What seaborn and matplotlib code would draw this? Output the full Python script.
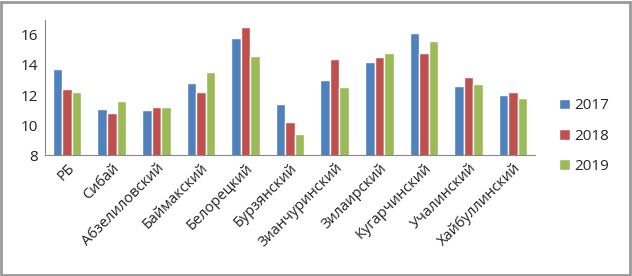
import pandas as pd
import matplotlib
matplotlib.use("Agg")
import matplotlib.pyplot as plt
import seaborn as sns
from matplotlib.ticker import FixedLocator

regions = ["РБ", "Сибай", "Абзелиловский", "Баймакский", "Белорецкий", "Бурзянский",
           "Зианчуринский", "Зилаирский", "Кугарчинский", "Учалинский", "Хайбуллинский"]
years = ["2017", "2018", "2019"]
vals_2017 = [13.7, 11.1, 11.0, 12.8, 15.8, 11.4, 13.0, 14.2, 16.1, 12.6, 12.0]
vals_2018 = [12.4, 10.8, 11.2, 12.2, 16.5, 10.2, 14.4, 14.5, 14.8, 13.2, 12.2]
vals_2019 = [12.2, 11.6, 11.2, 13.5, 14.6, 9.4, 12.5, 14.8, 15.6, 12.7, 11.8]
colors = ["#4F81BD", "#C0504D", "#9BBB59"]

df = pd.DataFrame({"region": regions * 3,
                   "year": [y for y in years for _ in regions],
                   "value": vals_2017 + vals_2018 + vals_2019})

sns.set_theme(style="white")
plt.rcParams['font.family'] = ['Open Sans', 'DejaVu Sans']

fig = plt.figure(figsize=(6.32, 2.76), dpi=100)
ax = fig.add_axes([0.071, 0.438, 0.776, 0.49])

sns.barplot(data=df, x="region", y="value", hue="year", palette=colors,
            width=0.64, saturation=1, ax=ax, legend=True)

ax.set_ylim(8, 17)
ax.set_yticks([8, 10, 12, 14, 16])
ax.set_xlim(-0.5, len(regions) - 0.5)
ax.set_xlabel("")
ax.set_ylabel("")
ax.tick_params(axis="y", labelsize=11, length=0, pad=5, colors="#222222")
ax.tick_params(axis="x", labelsize=10.5, length=0, pad=4, colors="#222222")
plt.setp(ax.get_xticklabels(), rotation=45, ha="right", rotation_mode="anchor")
# category boundary ticks
ax.xaxis.set_minor_locator(FixedLocator([i - 0.5 for i in range(len(regions) + 1)]))
ax.tick_params(axis="x", which="minor", length=4, color="#888888", direction="out")

for s in ["top", "right"]:
    ax.spines[s].set_visible(False)
for s in ["left", "bottom"]:
    ax.spines[s].set_color("#888888")
    ax.spines[s].set_linewidth(0.8)

ax.legend(loc="center left", bbox_to_anchor=(1.02, 0.14), frameon=False,
          fontsize=11, handlelength=0.7, handleheight=0.7, handletextpad=0.3,
          labelspacing=1.0)

# gray frame around the whole picture
fig.patches.append(plt.Rectangle((0.002, 0.004), 0.995, 0.99, transform=fig.transFigure,
                                 fill=False, edgecolor="#999999", linewidth=2))

plt.savefig("out.png", dpi=100)
